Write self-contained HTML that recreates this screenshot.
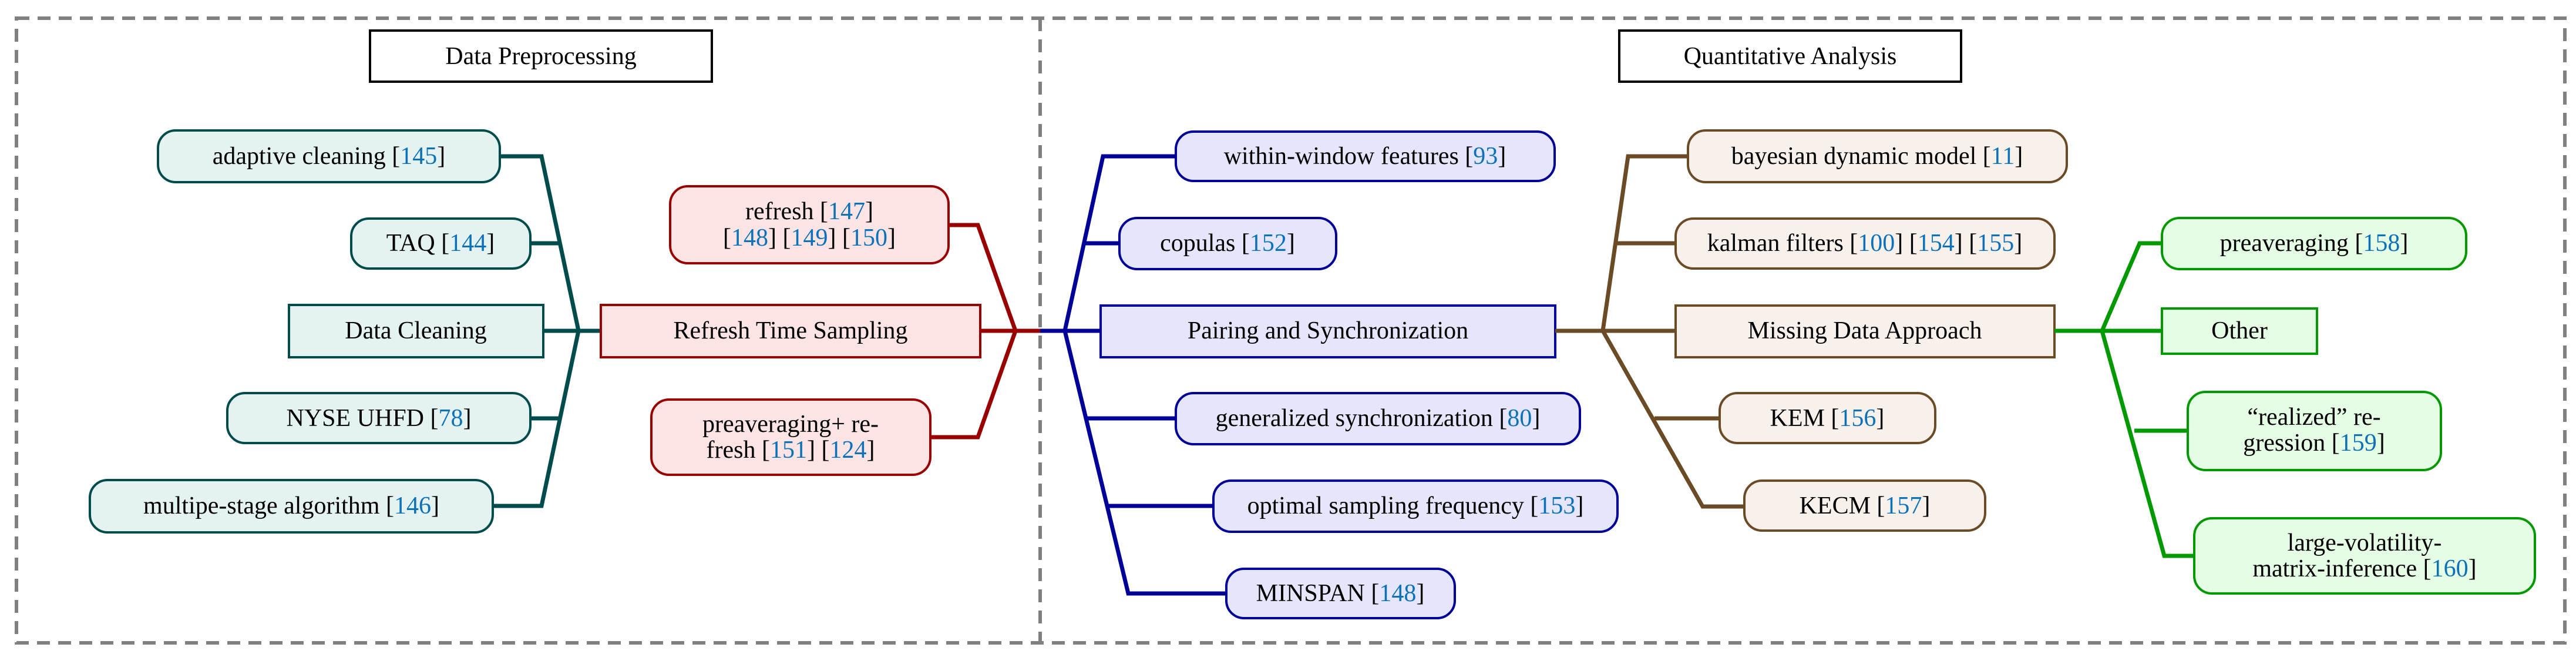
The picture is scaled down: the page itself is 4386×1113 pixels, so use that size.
<!DOCTYPE html>
<html><head><meta charset="utf-8"><style>
html,body{margin:0;padding:0;background:#fff}
svg{display:block}
text{font-family:"Liberation Serif",serif;font-size:42px;fill:#000;text-anchor:middle;dominant-baseline:central}
.r{fill:#0b72b9}
</style></head><body>
<svg width="4386" height="1113" viewBox="0 0 4386 1113" xmlns="http://www.w3.org/2000/svg">
<g fill="none" stroke="#808080" stroke-width="6" stroke-dasharray="22 14">
<rect x="28" y="31" width="4339" height="1063"/>
<line x1="1771" y1="31" x2="1771" y2="1094"/>
</g>
<rect x="630" y="52" width="582" height="87" fill="#fff" stroke="#000" stroke-width="4"/>
<text x="921" y="96">Data Preprocessing</text>
<rect x="2757" y="52" width="582" height="87" fill="#fff" stroke="#000" stroke-width="4"/>
<text x="3048" y="96">Quantitative Analysis</text>

<!-- teal -->
<g fill="none" stroke="#004c4c" stroke-width="7">
<polyline points="851,266 922,266 985,563 922,861 839,861"/>
<line x1="903" y1="414" x2="953" y2="414"/>
<line x1="925" y1="563" x2="1023" y2="563"/>
<line x1="903" y1="712" x2="953" y2="712"/>
</g>
<g fill="#e5f2f2" stroke="#004c4c" stroke-width="4">
<rect x="269" y="222" width="582" height="88" rx="30"/>
<rect x="598" y="372" width="305" height="85" rx="30"/>
<rect x="492" y="519" width="433" height="89"/>
<rect x="387" y="669" width="516" height="85" rx="30"/>
<rect x="153" y="817" width="686" height="89" rx="30"/>
</g>
<text x="560" y="266">adaptive cleaning [<tspan class="r">145</tspan>]</text>
<text x="750" y="414">TAQ [<tspan class="r">144</tspan>]</text>
<text x="708" y="563">Data Cleaning</text>
<text x="645" y="712">NYSE UHFD [<tspan class="r">78</tspan>]</text>
<text x="496" y="861">multipe-stage algorithm [<tspan class="r">146</tspan>]</text>

<!-- red -->
<g fill="none" stroke="#990000" stroke-width="7">
<polyline points="1615,383 1665,383 1729,563 1665,744 1584,744"/>
<line x1="1669" y1="563" x2="1771" y2="563"/>
</g>
<g fill="#fde4e4" stroke="#990000" stroke-width="4">
<rect x="1023" y="519" width="646" height="89"/>
<rect x="1141" y="317" width="474" height="131" rx="30"/>
<rect x="1109" y="680" width="475" height="128" rx="30"/>
</g>
<text x="1346" y="563">Refresh Time Sampling</text>
<text x="1378" y="360">refresh [<tspan class="r">147</tspan>]</text>
<text x="1378" y="405">[<tspan class="r">148</tspan>] [<tspan class="r">149</tspan>] [<tspan class="r">150</tspan>]</text>
<text x="1346" y="722">preaveraging+ re-</text>
<text x="1346" y="766">fresh [<tspan class="r">151</tspan>] [<tspan class="r">124</tspan>]</text>

<!-- blue -->
<g fill="none" stroke="#000099" stroke-width="7">
<line x1="1771" y1="563" x2="1874" y2="563"/>
<polyline points="2002,266 1878,266 1813,563 1921,1010 2088,1010"/>
<line x1="1848" y1="414" x2="1906" y2="414"/>
<line x1="1850" y1="712" x2="2002" y2="712"/>
<line x1="1887" y1="861" x2="2066" y2="861"/>
</g>
<g fill="#e5e5fb" stroke="#000099" stroke-width="4">
<rect x="2002" y="224" width="645" height="84" rx="30"/>
<rect x="1906" y="371" width="369" height="87" rx="30"/>
<rect x="1874" y="520" width="774" height="88"/>
<rect x="2002" y="669" width="688" height="87" rx="30"/>
<rect x="2066" y="818" width="688" height="87" rx="30"/>
<rect x="2088" y="968" width="389" height="84" rx="30"/>
</g>
<text x="2324" y="266">within-window features [<tspan class="r">93</tspan>]</text>
<text x="2090" y="414">copulas [<tspan class="r">152</tspan>]</text>
<text x="2261" y="563">Pairing and Synchronization</text>
<text x="2346" y="712">generalized synchronization [<tspan class="r">80</tspan>]</text>
<text x="2410" y="861">optimal sampling frequency [<tspan class="r">153</tspan>]</text>
<text x="2282" y="1010">MINSPAN [<tspan class="r">148</tspan>]</text>

<!-- brown -->
<g fill="none" stroke="#6b4a26" stroke-width="7">
<line x1="2648" y1="563" x2="2853" y2="563"/>
<polyline points="2874,266 2772,266 2729,563 2899,862 2970,862"/>
<line x1="2750" y1="414" x2="2853" y2="414"/>
<line x1="2817" y1="712" x2="2928" y2="712"/>
</g>
<g fill="#f8f0eb" stroke="#6b4a26" stroke-width="4">
<rect x="2874" y="222" width="645" height="88" rx="30"/>
<rect x="2853" y="372" width="645" height="85" rx="30"/>
<rect x="2853" y="520" width="645" height="88"/>
<rect x="2928" y="669" width="367" height="85" rx="30"/>
<rect x="2970" y="818" width="410" height="85" rx="30"/>
</g>
<text x="3196" y="266">bayesian dynamic model [<tspan class="r">11</tspan>]</text>
<text x="3175" y="414">kalman filters [<tspan class="r">100</tspan>] [<tspan class="r">154</tspan>] [<tspan class="r">155</tspan>]</text>
<text x="3175" y="563">Missing Data Approach</text>
<text x="3111" y="712">KEM [<tspan class="r">156</tspan>]</text>
<text x="3175" y="861">KECM [<tspan class="r">157</tspan>]</text>

<!-- green -->
<g fill="none" stroke="#009900" stroke-width="7">
<line x1="3498" y1="563" x2="3681" y2="563"/>
<polyline points="3681,414 3643,414 3579,563 3685,946 3736,946"/>
<line x1="3634" y1="733" x2="3725" y2="733"/>
</g>
<g fill="#e5fde5" stroke="#009900" stroke-width="4">
<rect x="3681" y="371" width="518" height="87" rx="30"/>
<rect x="3681" y="525" width="264" height="77"/>
<rect x="3725" y="667" width="431" height="133" rx="30"/>
<rect x="3736" y="882" width="580" height="128" rx="30"/>
</g>
<text x="3940" y="414">preaveraging [<tspan class="r">158</tspan>]</text>
<text x="3813" y="563">Other</text>
<text x="3940" y="710">“realized” re-</text>
<text x="3940" y="754">gression [<tspan class="r">159</tspan>]</text>
<text x="4026" y="924">large-volatility-</text>
<text x="4026" y="968">matrix-inference [<tspan class="r">160</tspan>]</text>
</svg>
</body></html>
